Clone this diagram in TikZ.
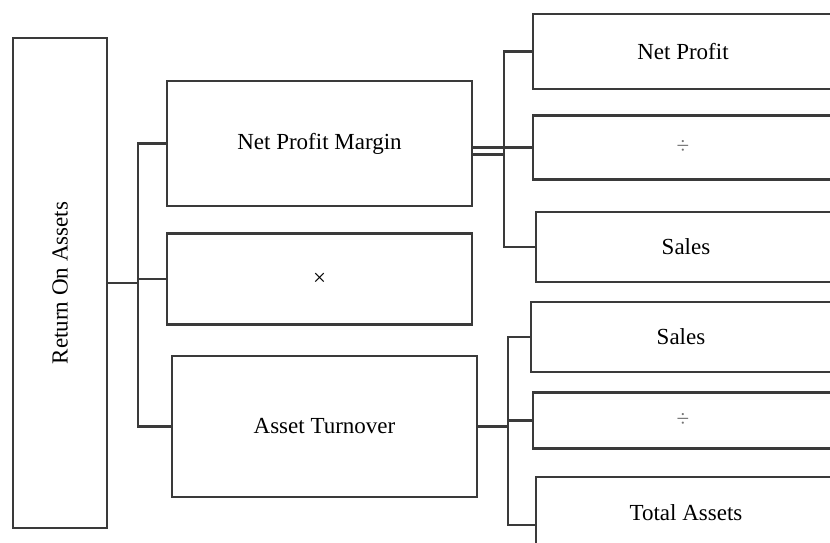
\documentclass[tikz,border=0pt]{standalone}
\usepackage{fontspec}
\setmainfont{Liberation Serif}
\usepackage{tikz}
\usetikzlibrary{positioning}
\definecolor{lineGray}{HTML}{3A3A3A}

\begin{document}
\begin{tikzpicture}[
  x=0.5pt, y=-0.5pt,
  metric/.style={rectangle, draw=lineGray, line width=1.2pt, minimum width=150pt, align=center, font=\fontsize{11.5}{13}\selectfont, inner sep=2pt},
  sign/.style={metric, text=black!55},
  link/.style={draw=lineGray, line width=1.2pt},
]
\useasboundingbox (0,0) rectangle (830,542);
\clip (0,0) rectangle (830,542);

% left column
\node[metric, minimum width=47pt, minimum height=245pt] (roa) at (60,283) {\rotatebox{90}{Return On Assets}};

% middle column
\node[metric, minimum width=152.5pt, minimum height=62.5pt] (npm) at (319.5,143.5) {Net Profit Margin};
\node[metric, minimum width=152.5pt, minimum height=45.5pt, below=12.5pt of npm] (times) {×};
\node[metric, minimum width=152.5pt, minimum height=70.5pt, below=14.5pt of times, xshift=2.5pt] (turnover) {Asset Turnover};

% right column, upper group
\node[metric, minimum height=37.5pt] (netprofit) at (683,51.5) {Net Profit};
\node[sign, minimum height=32pt, below=12pt of netprofit] (div1) {÷};
\node[metric, minimum height=35pt, below=15pt of div1, xshift=1.5pt] (sales1) {Sales};

% right column, lower group
\node[metric, minimum height=35pt] (sales2) at (681,337) {Sales};
\node[sign, minimum height=28pt, below=9pt of sales2, xshift=1pt] (div2) {÷};
\node[metric, minimum height=36pt, below=13pt of div2, xshift=1.5pt] (assets) {Total Assets};

% joints
\coordinate (j1) at ([xshift=15pt]roa.east);
\coordinate (j2) at ([xshift=15.5pt, yshift=-5.5pt]npm.east);
\coordinate (j3) at ([xshift=15pt]turnover.east);

\draw[link] (roa.east) -- (j1);
\draw[link] (npm.west) -| (j1);
\draw[link] (times.west) -| (j1);
\draw[link] (turnover.west) -| (j1);

\draw[link] (npm.east |- div1.west) -- (div1.west);
\draw[link] (npm.east |- j2) -- (j2);
\draw[link] (netprofit.west) -| (j2);
\draw[link] (sales1.west) -| (j2);

\draw[link] (turnover.east) -- (j3);
\draw[link] (sales2.west) -| (j3);
\draw[link] (div2.west) -| (j3);
\draw[link] ([yshift=-6pt]assets.west) -| (j3);

\end{tikzpicture}
\end{document}
